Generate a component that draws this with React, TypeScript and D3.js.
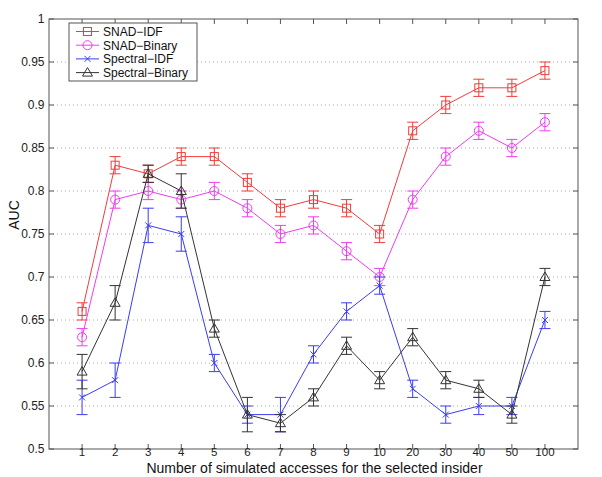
import React from "react";
import * as d3 from "d3";

const categories = ["1","2","3","4","5","6","7","8","9","10","20","30","40","50","100"];
const snadIdf = [0.66,0.83,0.82,0.84,0.84,0.81,0.78,0.79,0.78,0.75,0.87,0.90,0.92,0.92,0.94];
const snadIdfErr = [0.01,0.01,0.01,0.01,0.01,0.01,0.01,0.01,0.01,0.01,0.01,0.01,0.01,0.01,0.01];
const snadBin = [0.63,0.79,0.80,0.79,0.80,0.78,0.75,0.76,0.73,0.70,0.79,0.84,0.87,0.85,0.88];
const snadBinErr = [0.01,0.01,0.01,0.01,0.01,0.01,0.01,0.01,0.01,0.01,0.01,0.01,0.01,0.01,0.01];
const specIdf = [0.56,0.58,0.76,0.75,0.60,0.54,0.54,0.61,0.66,0.69,0.57,0.54,0.55,0.55,0.65];
const specIdfErr = [0.02,0.02,0.02,0.02,0.01,0.01,0.02,0.01,0.01,0.01,0.01,0.01,0.01,0.01,0.01];
const specBin = [0.59,0.67,0.82,0.80,0.64,0.54,0.53,0.56,0.62,0.58,0.63,0.58,0.57,0.54,0.70];
const specBinErr = [0.02,0.02,0.01,0.02,0.01,0.02,0.01,0.01,0.01,0.01,0.01,0.01,0.01,0.01,0.01];
const yTicks = [0.5,0.55,0.6,0.65,0.7,0.75,0.8,0.85,0.9,0.95,1];
const seriesNames = ["SNAD\u2212IDF","SNAD\u2212Binary","Spectral\u2212IDF","Spectral\u2212Binary"];

type Series = { name: string; vals: number[]; err: number[]; color: string; marker: string };

const series: Series[] = [
  { name: seriesNames[0], vals: snadIdf, err: snadIdfErr, color: "#f03c3c", marker: "square" },
  { name: seriesNames[1], vals: snadBin, err: snadBinErr, color: "#f03cf0", marker: "circle" },
  { name: seriesNames[2], vals: specIdf, err: specIdfErr, color: "#3c3cf0", marker: "x" },
  { name: seriesNames[3], vals: specBin, err: specBinErr, color: "#333333", marker: "triangle" },
];

const L = 49, R = 578, T = 19, B = 449;
const font = "Liberation Sans, Arial, Helvetica, sans-serif";

function Marker({ kind, x, y, color }: { kind: string; x: number; y: number; color: string }) {
  if (kind === "square") return <rect x={x - 4} y={y - 4} width={8} height={8} fill="none" stroke={color} strokeWidth={1} />;
  if (kind === "circle") return <circle cx={x} cy={y} r={4.5} fill="none" stroke={color} strokeWidth={1} />;
  if (kind === "x") return <path d={`M${x - 3},${y - 3}L${x + 3},${y + 3}M${x - 3},${y + 3}L${x + 3},${y - 3}`} stroke={color} strokeWidth={1} />;
  return <path d={`M${x},${y - 5}L${x + 5},${y + 3.5}L${x - 5},${y + 3.5}Z`} fill="none" stroke={color} strokeWidth={1} />;
}

export default function App() {
  const x = d3.scaleLinear().domain([0, 16]).range([L, R]);
  const y = d3.scaleLinear().domain([0.5, 1]).range([B, T]);
  const line = d3.line<number>().x((_, i) => x(i + 1)).y((d) => y(d));
  const axisColor = "#555";
  return (
    <svg width={602} height={477} style={{ position: "absolute", left: 0, top: 0, background: "#fff" }} fontFamily={font}>
      <rect width={602} height={477} fill="#fff" />
      {yTicks.slice(1, -1).map((t) => (
        <line key={t} x1={L} x2={R} y1={y(t)} y2={y(t)} stroke="#aaa" strokeWidth={1} strokeDasharray="1,3" />
      ))}
      <rect x={L} y={T} width={R - L} height={B - T} fill="none" stroke={axisColor} strokeWidth={1} />
      {yTicks.map((t) => (
        <g key={"yt" + t}>
          <line x1={L} x2={L + 5} y1={y(t)} y2={y(t)} stroke={axisColor} />
          <line x1={R - 5} x2={R} y1={y(t)} y2={y(t)} stroke={axisColor} />
          <text x={L - 4.5} y={y(t) + 4.2} textAnchor="end" fontSize={12} fill="#222">{String(t)}</text>
        </g>
      ))}
      {categories.map((c, i) => (
        <g key={"xt" + c}>
          <line x1={x(i + 1)} x2={x(i + 1)} y1={B} y2={B - 5} stroke={axisColor} />
          <line x1={x(i + 1)} x2={x(i + 1)} y1={T} y2={T + 5} stroke={axisColor} />
          <text x={x(i + 1)} y={455.5} textAnchor="middle" fontSize={11.5} fill="#222">{c}</text>
        </g>
      ))}
      <text x={(L + R) / 2 + 1} y={473} textAnchor="middle" fontSize={14} fill="#111">Number of simulated accesses for the selected insider</text>
      <text transform={`translate(19,215) rotate(-90)`} textAnchor="middle" fontSize={14} fill="#111">AUC</text>
      {series.map((s) => (
        <g key={s.name}>
          <path d={line(s.vals) || ""} fill="none" stroke={s.color} strokeWidth={1} />
          {s.vals.map((v, i) => {
            const cx = x(i + 1);
            const y1 = y(v + s.err[i]);
            const y2 = y(v - s.err[i]);
            return (
              <g key={i}>
                <line x1={cx} x2={cx} y1={y1} y2={y2} stroke={s.color} strokeWidth={1} />
                <line x1={cx - 5.5} x2={cx + 5.5} y1={y1} y2={y1} stroke={s.color} strokeWidth={1} />
                <line x1={cx - 5.5} x2={cx + 5.5} y1={y2} y2={y2} stroke={s.color} strokeWidth={1} />
                <Marker kind={s.marker} x={cx} y={y(v)} color={s.color} />
              </g>
            );
          })}
        </g>
      ))}
      <rect x={69} y={23} width={128} height={58} fill="#fff" stroke={axisColor} strokeWidth={1} />
      {series.map((s, i) => {
        const ly = 31.5 + i * 13.7;
        return (
          <g key={"lg" + s.name}>
            <line x1={76} x2={99} y1={ly} y2={ly} stroke={s.color} strokeWidth={1} />
            <Marker kind={s.marker} x={87.5} y={ly} color={s.color} />
            <text x={103} y={ly + 4.3} fontSize={12} fill="#111">{s.name}</text>
          </g>
        );
      })}
    </svg>
  );
}
